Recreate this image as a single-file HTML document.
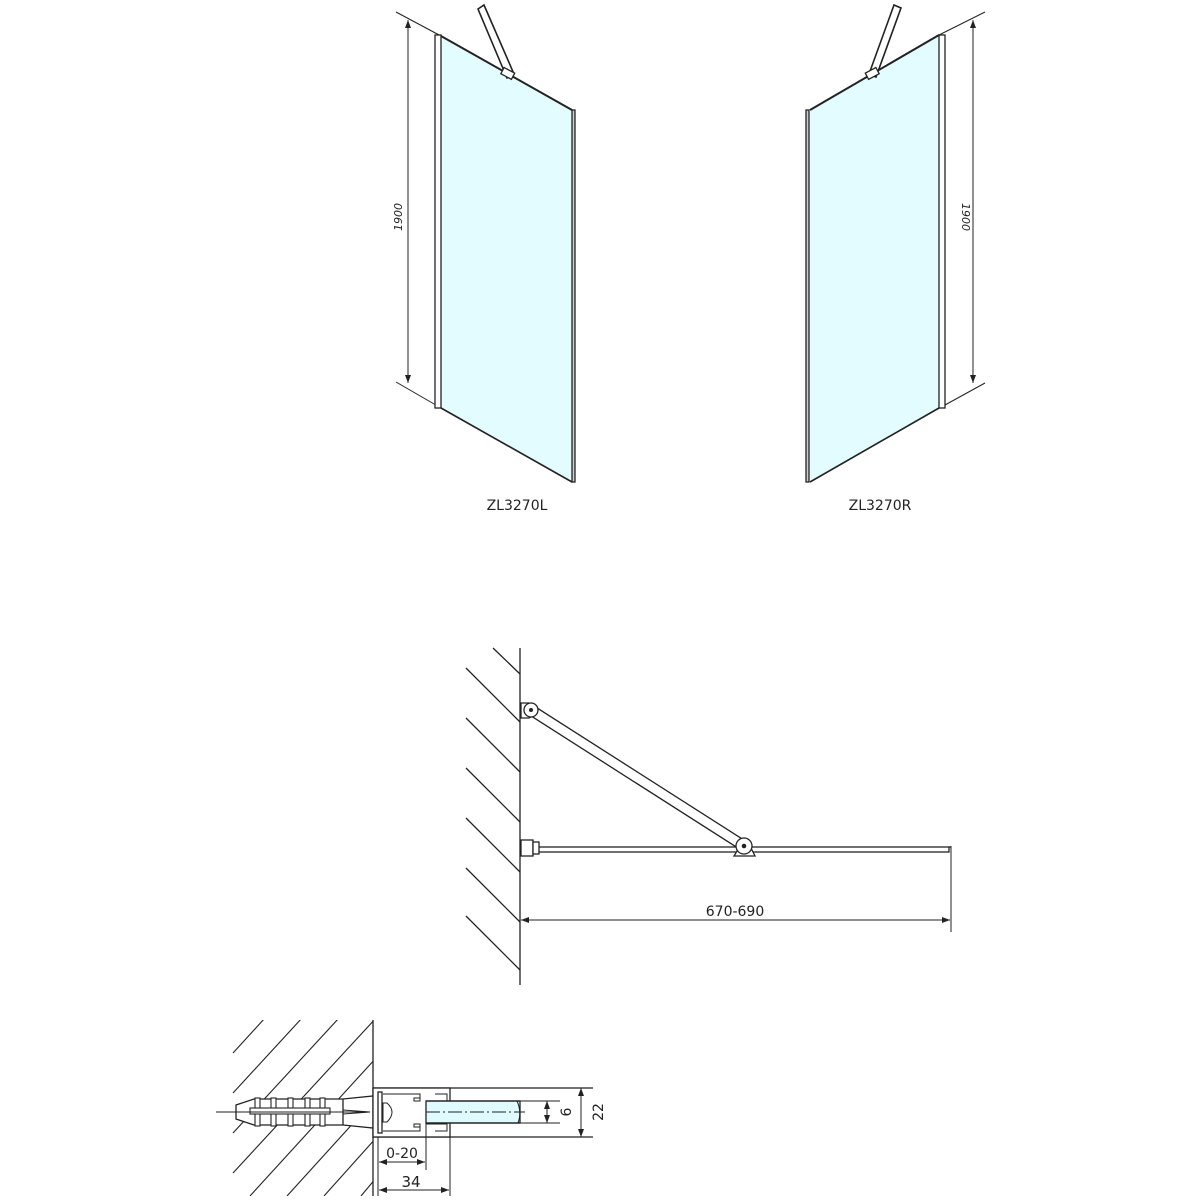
<!DOCTYPE html>
<html><head><meta charset="utf-8"><style>
html,body{margin:0;padding:0;background:#fff}
svg{display:block}
text{font-family:"DejaVu Sans","Liberation Sans",sans-serif;fill:#222}
</style></head><body>
<svg width="1200" height="1200" viewBox="0 0 1200 1200" xmlns="http://www.w3.org/2000/svg">
<defs>
<marker id="ar" markerWidth="8" markerHeight="6" refX="8" refY="3" orient="auto" markerUnits="userSpaceOnUse"><path d="M0,0 L8,3 L0,6z" fill="#222"/></marker>
<clipPath id="hc"><polygon points="228,1020 373,1020 373,1196 228,1196"/></clipPath>
</defs>
<g stroke="#222" fill="none" stroke-width="1.3">
<!-- LEFT PANEL -->
<polygon points="441,36 572,110 572,482 441,408" fill="#e2fcff" stroke="none"/>
<line x1="396" y1="12" x2="441" y2="36" stroke-width="1"/>
<line x1="441" y1="36" x2="572" y2="110" stroke-width="2"/>
<line x1="441" y1="408" x2="572" y2="482" stroke-width="1.6"/>
<line x1="396" y1="382" x2="441" y2="408" stroke-width="1"/>
<rect x="435" y="35" width="6" height="373" fill="#fff"/>
<rect x="572" y="110" width="3" height="372" fill="#ccc"/>
<line x1="408" y1="383" x2="408" y2="20" stroke-width="1" marker-end="url(#ar)"/>
<line x1="408" y1="20" x2="408" y2="383" stroke-width="1" marker-end="url(#ar)"/>
<polygon points="478,9 484,5 514,74 507,78" fill="#fff" stroke-width="1.6"/>
<rect x="502" y="70" width="12" height="7" fill="#fff" transform="rotate(28 508 73)"/>
<!-- RIGHT PANEL -->
<polygon points="810,110 939,35 939,408 810,482" fill="#e2fcff" stroke="none"/>
<line x1="939" y1="35" x2="985" y2="12" stroke-width="1"/>
<line x1="810" y1="110" x2="939" y2="35" stroke-width="2"/>
<line x1="810" y1="482" x2="939" y2="408" stroke-width="1.6"/>
<line x1="945" y1="405" x2="985" y2="383" stroke-width="1"/>
<rect x="939" y="35" width="6" height="373" fill="#fff"/>
<rect x="806" y="110" width="3" height="372" fill="#ccc"/>
<line x1="973" y1="383" x2="973" y2="20" stroke-width="1" marker-end="url(#ar)"/>
<line x1="973" y1="20" x2="973" y2="383" stroke-width="1" marker-end="url(#ar)"/>
<polygon points="894,5 901,8 876,77 869,74" fill="#fff" stroke-width="1.6"/>
<rect x="866" y="70" width="12" height="7" fill="#fff" transform="rotate(-28 872 73)"/>
<!-- MIDDLE PLAN -->
<line x1="520" y1="648" x2="520" y2="985"/>
<line x1="493" y1="648" x2="520" y2="674"/>
<line x1="466" y1="668" x2="520" y2="722"/>
<line x1="466" y1="718" x2="520" y2="772"/>
<line x1="466" y1="768" x2="520" y2="822"/>
<line x1="466" y1="818" x2="520" y2="872"/>
<line x1="466" y1="868" x2="520" y2="922"/>
<line x1="466" y1="916" x2="520" y2="970"/>
<rect x="536" y="847" width="413" height="5" fill="#fff"/>
<rect x="521" y="840" width="12" height="16" fill="#fff"/>
<rect x="533" y="842" width="6" height="12" fill="#fff"/>
<line x1="949" y1="847" x2="951" y2="847"/>
<line x1="951" y1="846" x2="951" y2="932" stroke-width="1"/>
<polygon points="528.3,714.2 533.7,705.8 746.7,841.8 741.3,850.2" fill="#fff"/>
<path d="M521,703 L529,703 A8,8 0 0 1 529,718 L521,718z" fill="#fff"/>
<circle cx="531" cy="710" r="7" fill="#fff"/>
<circle cx="531" cy="710" r="2" fill="#222" stroke="none"/>
<polygon points="734,856 755,856 750,846 740,846" fill="#fff"/>
<circle cx="744" cy="846" r="8" fill="#fff"/>
<circle cx="744" cy="846" r="2.3" fill="#222" stroke="none"/>
<line x1="950" y1="920" x2="521" y2="920" stroke-width="1" marker-end="url(#ar)"/>
<line x1="521" y1="920" x2="950" y2="920" stroke-width="1" marker-end="url(#ar)"/>
<!-- BOTTOM DETAIL -->
<g clip-path="url(#hc)" stroke-width="1.1">
<line x1="233" y1="1053" x2="265" y2="1018"/>
<line x1="233" y1="1093" x2="302" y2="1018"/>
<line x1="233" y1="1133" x2="339" y2="1018"/>
<line x1="233" y1="1173" x2="376" y2="1018"/>
<line x1="250" y1="1196" x2="376" y2="1058"/>
<line x1="287" y1="1196" x2="376" y2="1098"/>
<line x1="324" y1="1196" x2="376" y2="1138"/>
<line x1="361" y1="1196" x2="376" y2="1178"/>
</g>
<line x1="373" y1="1020" x2="373" y2="1196"/>
<line x1="216" y1="1112" x2="525" y2="1112" stroke-width="0.9" stroke-dasharray="14,3,2,3"/>
<path d="M236,1105 L254,1099 L343,1099 L373,1096 L373,1128 L343,1125 L254,1125 L236,1119z" fill="#fff"/>
<g fill="#fff" stroke-width="1.1">
<rect x="255" y="1098" width="5" height="28"/><rect x="271" y="1098" width="5" height="28"/><rect x="288" y="1098" width="5" height="28"/><rect x="305" y="1098" width="5" height="28"/><rect x="320" y="1098" width="5" height="28"/>
<rect x="250" y="1108" width="80" height="6"/>
</g>
<line x1="343" y1="1099" x2="343" y2="1125"/>
<line x1="216" y1="1112" x2="370" y2="1112" stroke-width="0.9"/>
<path d="M343,1110 L370,1112 L343,1114" stroke-width="0.9"/>
<line x1="593" y1="1088" x2="373" y2="1088"/>
<line x1="593" y1="1137" x2="373" y2="1137"/>
<rect x="373" y="1088" width="77" height="49" fill="#fff"/>
<rect x="378" y="1092" width="4" height="41"/>
<path d="M383,1094 L420,1094 L420,1101 L414,1101 L414,1098 L420,1098 M383,1131 L420,1131 L420,1124 L414,1124 L414,1127 L420,1127" stroke-width="1"/>
<path d="M435,1094 L447,1094 L447,1101 L426,1101 M435,1131 L447,1131 L447,1124 L426,1124" stroke-width="1"/>
<path d="M387,1103 Q397,1112 387,1122 L383,1122 L383,1103z" fill="#fff" stroke-width="1"/>
<rect x="426" y="1101" width="94" height="22" fill="#dffbff"/>
<line x1="426" y1="1101" x2="520" y2="1101"/>
<line x1="426" y1="1123" x2="520" y2="1123"/>
<path d="M517,1101 Q522,1112 518,1123" stroke-width="1"/>
<line x1="426" y1="1112" x2="525" y2="1112" stroke-width="0.9" stroke-dasharray="14,3,2,3"/>
<line x1="520" y1="1101" x2="560" y2="1101" stroke-width="1"/>
<line x1="520" y1="1123" x2="560" y2="1123" stroke-width="1"/>
<line x1="547" y1="1112" x2="547" y2="1101" stroke-width="1" marker-end="url(#ar)"/>
<line x1="547" y1="1112" x2="547" y2="1123" stroke-width="1" marker-end="url(#ar)"/>
<line x1="581" y1="1112" x2="581" y2="1088" stroke-width="1" marker-end="url(#ar)"/>
<line x1="581" y1="1112" x2="581" y2="1137" stroke-width="1" marker-end="url(#ar)"/>
<line x1="378" y1="1137" x2="378" y2="1196" stroke-width="1"/>
<line x1="426" y1="1123" x2="426" y2="1170" stroke-width="1"/>
<line x1="450" y1="1137" x2="450" y2="1196" stroke-width="1"/>
<line x1="402" y1="1162" x2="379" y2="1162" stroke-width="1" marker-end="url(#ar)"/>
<line x1="402" y1="1162" x2="425" y2="1162" stroke-width="1" marker-end="url(#ar)"/>
<line x1="414" y1="1190" x2="379" y2="1190" stroke-width="1" marker-end="url(#ar)"/>
<line x1="414" y1="1190" x2="449" y2="1190" stroke-width="1" marker-end="url(#ar)"/>
</g>
<text x="399" y="217" font-size="11" font-style="italic" text-anchor="middle" transform="rotate(-90 399 217)" dominant-baseline="middle">1900</text>
<text x="965" y="217" font-size="11" font-style="italic" text-anchor="middle" transform="rotate(90 965 217)" dominant-baseline="middle">1900</text>
<text x="517" y="510" font-size="14" text-anchor="middle">ZL3270L</text>
<text x="880" y="510" font-size="14" text-anchor="middle">ZL3270R</text>
<text x="735" y="916" font-size="14" text-anchor="middle">670-690</text>
<text x="402" y="1158" font-size="14" text-anchor="middle">0-20</text>
<text x="411" y="1187" font-size="15" text-anchor="middle">34</text>
<text x="0" y="0" font-size="14" text-anchor="middle" transform="translate(567 1112) rotate(-90)" dominant-baseline="middle">6</text>
<text x="0" y="0" font-size="14" text-anchor="middle" transform="translate(599 1112) rotate(-90)" dominant-baseline="middle">22</text>
</svg>
</body></html>
